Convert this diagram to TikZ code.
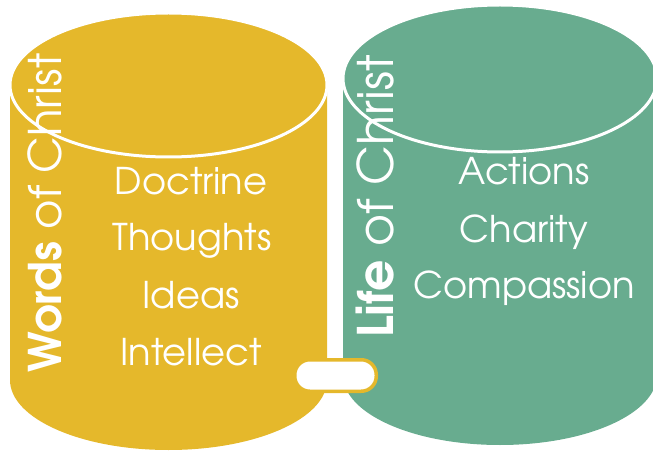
\documentclass[tikz,border=0pt]{standalone}
\usepackage{fontspec}
\setmainfont{texgyreadventor}[Extension=.otf, UprightFont=*-regular, BoldFont=*-bold]
\definecolor{cyel}{HTML}{E5B82B}
\definecolor{cgrn}{HTML}{68AC8F}
\begin{document}
\begin{tikzpicture}[x=1pt,y=1pt,
  item/.style={text=white, font=\fontsize{36.8}{36.8}\selectfont, inner sep=0pt, anchor=base},
  vtitle/.style={text=white, inner sep=0pt, rotate=90, anchor=base west},
  rim/.style={draw=white, line width=3pt}]
\useasboundingbox (0,0) rectangle (653,453);
% yellow cylinder
\fill[cyel] (10,368) -- (10,73) arc[start angle=180, end angle=360, x radius=158.5, y radius=70] -- (327,368) -- cycle;
\path[fill=cyel, rim] (168.5,368) ellipse[x radius=158.5, y radius=72];
% green cylinder
\fill[cgrn] (343,374.5) -- (343,78) arc[start angle=180, end angle=360, x radius=157, y radius=70] -- (657,374.5) -- cycle;
\path[fill=cgrn, rim] (500,374.5) ellipse[x radius=157, y radius=73.5];
% connector
\draw[fill=white, draw=cyel, line width=3.5pt, rounded corners=15pt] (294.75,61.75) rectangle (376.25,93.25);
% texts
\node[vtitle, font=\fontsize{45}{45}\selectfont] (wt) at (61,80) {\textbf{Words} of Christ};
\node[vtitle, font=\fontsize{49}{49}\selectfont] (lt) at (393,115) {\textbf{Life} of Christ};
\node[item] (i1) at (191,258) {Doctrine};
\node[item] (i2) at (192,203) {Thoughts};
\node[item] (i3) at (191,145) {Ideas};
\node[item] (i4) at (191,88) {Intellect};
\node[item] (j1) at (524,268) {Actions};
\node[item] (j2) at (524,211) {Charity};
\node[item] (j3) at (524,155) {Compassion};
\end{tikzpicture}
\end{document}
